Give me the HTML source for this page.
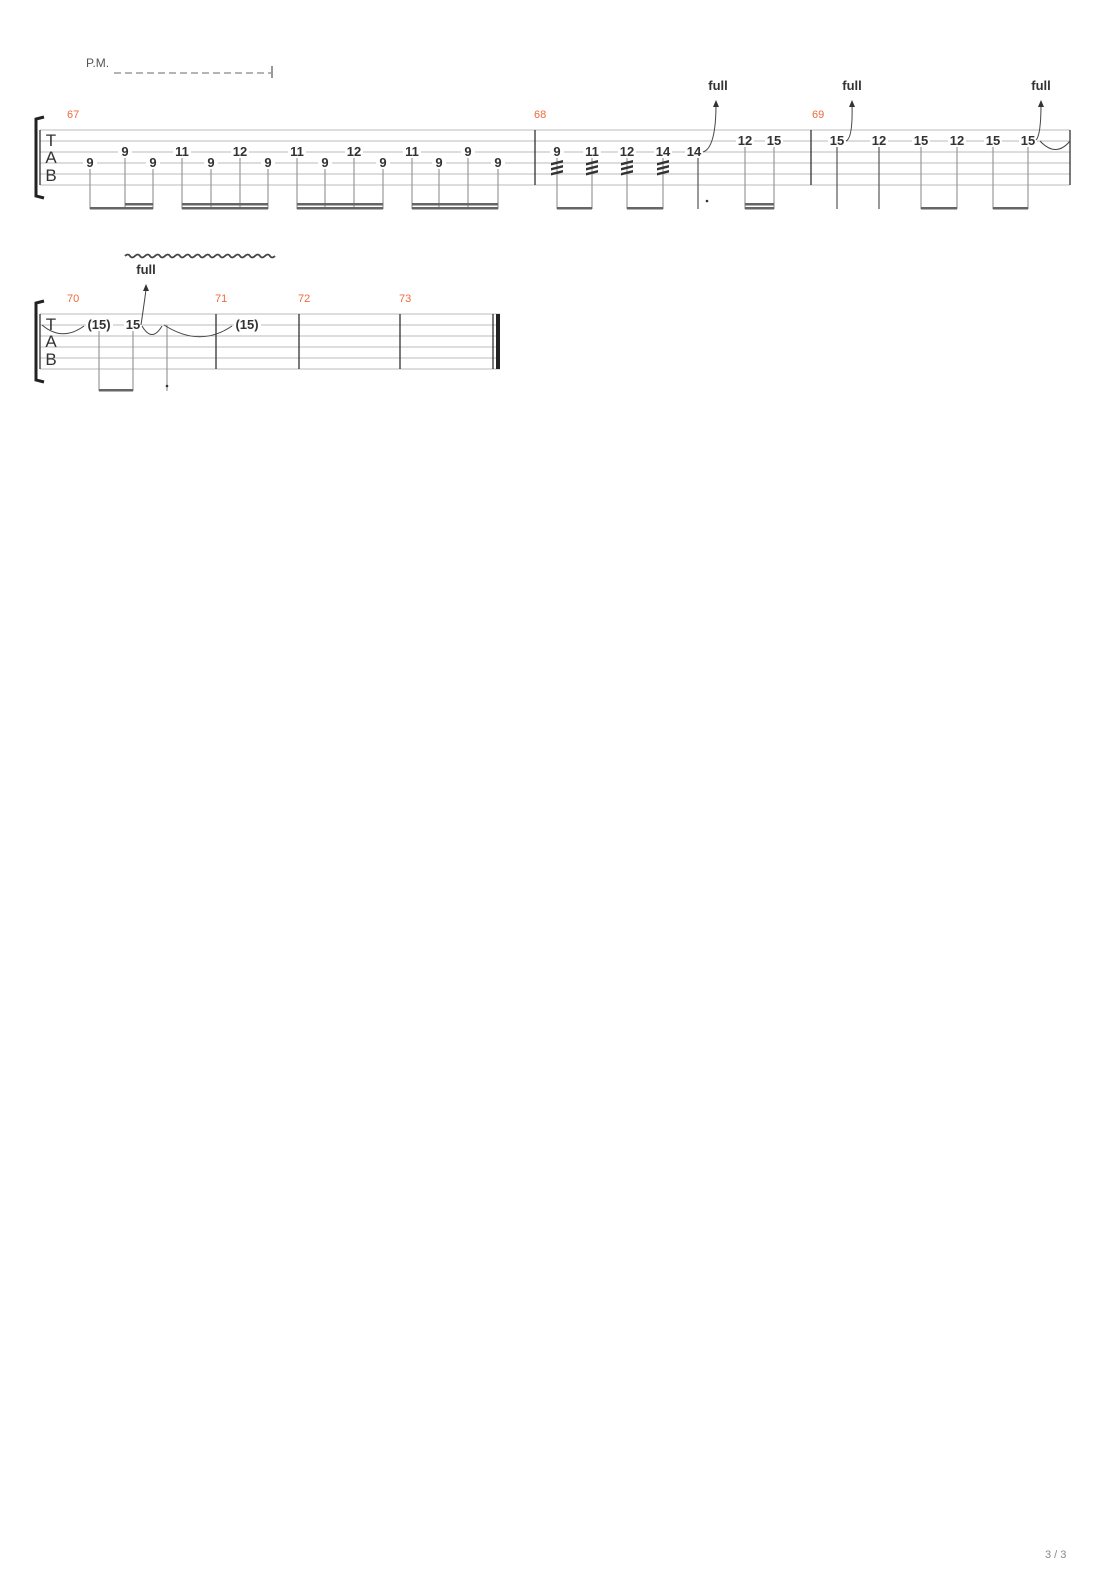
<!DOCTYPE html>
<html><head><meta charset="utf-8"><style>
html,body{margin:0;padding:0;background:#fff;}
svg{display:block;}
.n{font-family:"Liberation Sans",sans-serif;font-size:13px;font-weight:bold;fill:#333;text-anchor:middle;}
.m{font-family:"Liberation Sans",sans-serif;font-size:11px;fill:#f06a3c;}
.tab{font-family:"Liberation Sans",sans-serif;font-size:17px;fill:#333;text-anchor:middle;}
</style></head><body>
<svg width="1110" height="1570" xmlns="http://www.w3.org/2000/svg">
<text x="86" y="67" font-family="Liberation Sans" font-size="12" fill="#555">P.M.</text>
<line x1="114" y1="73" x2="271" y2="73" stroke="#888" stroke-width="1.3" stroke-dasharray="7,4"/>
<line x1="272" y1="66" x2="272" y2="78" stroke="#555" stroke-width="1.2"/>

<!-- System 1 -->
<g stroke="#bbb" stroke-width="1">
<line x1="40" y1="130" x2="1070" y2="130"/><line x1="40" y1="141" x2="1070" y2="141"/>
<line x1="40" y1="152" x2="1070" y2="152"/><line x1="40" y1="163" x2="1070" y2="163"/>
<line x1="40" y1="174" x2="1070" y2="174"/><line x1="40" y1="185" x2="1070" y2="185"/>
</g>
<path d="M44 117 L36 119 L36 196 L44 198" fill="none" stroke="#222" stroke-width="3"/>
<g stroke="#333" stroke-width="1.3"><line x1="40" y1="130" x2="40" y2="185"/><line x1="535" y1="130" x2="535" y2="185"/><line x1="811" y1="130" x2="811" y2="185"/><line x1="1070" y1="130" x2="1070" y2="185"/></g>
<text class="tab" x="51" y="146">T</text><text class="tab" x="51" y="163">A</text><text class="tab" x="51" y="181">B</text>
<text class="m" x="67" y="118">67</text><text class="m" x="534" y="118">68</text><text class="m" x="812" y="118">69</text>

<g fill="#fff"><rect x="83" y="155" width="14" height="14"/><rect x="118" y="144" width="14" height="14"/><rect x="146" y="155" width="14" height="14"/><rect x="173" y="144" width="18" height="14"/><rect x="204" y="155" width="14" height="14"/><rect x="231" y="144" width="18" height="14"/><rect x="261" y="155" width="14" height="14"/><rect x="288" y="144" width="18" height="14"/><rect x="318" y="155" width="14" height="14"/><rect x="345" y="144" width="18" height="14"/><rect x="376" y="155" width="14" height="14"/><rect x="403" y="144" width="18" height="14"/><rect x="432" y="155" width="14" height="14"/><rect x="461" y="144" width="14" height="14"/><rect x="491" y="155" width="14" height="14"/>
<rect x="550" y="144" width="14" height="14"/><rect x="583" y="144" width="18" height="14"/><rect x="618" y="144" width="18" height="14"/><rect x="654" y="144" width="18" height="14"/><rect x="685" y="144" width="18" height="14"/><rect x="736" y="133" width="18" height="14"/><rect x="765" y="133" width="18" height="14"/>
<rect x="828" y="133" width="18" height="14"/><rect x="870" y="133" width="18" height="14"/><rect x="912" y="133" width="18" height="14"/><rect x="948" y="133" width="18" height="14"/><rect x="984" y="133" width="18" height="14"/><rect x="1019" y="133" width="18" height="14"/></g>
<g class="n">
<text x="90" y="167">9</text><text x="125" y="156">9</text><text x="153" y="167">9</text><text x="182" y="156">11</text><text x="211" y="167">9</text><text x="240" y="156">12</text><text x="268" y="167">9</text><text x="297" y="156">11</text><text x="325" y="167">9</text><text x="354" y="156">12</text><text x="383" y="167">9</text><text x="412" y="156">11</text><text x="439" y="167">9</text><text x="468" y="156">9</text><text x="498" y="167">9</text>
<text x="557" y="156">9</text><text x="592" y="156">11</text><text x="627" y="156">12</text><text x="663" y="156">14</text><text x="694" y="156">14</text><text x="745" y="145">12</text><text x="774" y="145">15</text>
<text x="837" y="145">15</text><text x="879" y="145">12</text><text x="921" y="145">15</text><text x="957" y="145">12</text><text x="993" y="145">15</text><text x="1028" y="145">15</text>
<text x="718" y="90">full</text><text x="852" y="90">full</text><text x="1041" y="90">full</text>
</g>
<g stroke="#999" stroke-width="1.2">
<line x1="90" y1="169" x2="90" y2="209"/><line x1="125" y1="158" x2="125" y2="209"/><line x1="153" y1="169" x2="153" y2="209"/>
<line x1="182" y1="158" x2="182" y2="209"/><line x1="211" y1="169" x2="211" y2="209"/><line x1="240" y1="158" x2="240" y2="209"/><line x1="268" y1="169" x2="268" y2="209"/>
<line x1="297" y1="158" x2="297" y2="209"/><line x1="325" y1="169" x2="325" y2="209"/><line x1="354" y1="158" x2="354" y2="209"/><line x1="383" y1="169" x2="383" y2="209"/>
<line x1="412" y1="158" x2="412" y2="209"/><line x1="439" y1="169" x2="439" y2="209"/><line x1="468" y1="158" x2="468" y2="209"/><line x1="498" y1="169" x2="498" y2="209"/>
<line x1="557" y1="158" x2="557" y2="209"/><line x1="592" y1="158" x2="592" y2="209"/><line x1="627" y1="158" x2="627" y2="209"/><line x1="663" y1="158" x2="663" y2="209"/>
<line x1="745" y1="147" x2="745" y2="209"/><line x1="774" y1="147" x2="774" y2="209"/>
<line x1="921" y1="147" x2="921" y2="209"/><line x1="957" y1="147" x2="957" y2="209"/><line x1="993" y1="147" x2="993" y2="209"/><line x1="1028" y1="147" x2="1028" y2="209"/>
</g>
<g stroke="#555" stroke-width="1.2"><line x1="698" y1="158" x2="698" y2="209"/><line x1="837" y1="147" x2="837" y2="209"/><line x1="879" y1="147" x2="879" y2="209"/></g>
<circle cx="707" cy="201" r="1.3" fill="#333"/>
<g fill="#666">
<rect x="90" y="207" width="63" height="2.5"/><rect x="125" y="203" width="28" height="2.5"/>
<rect x="182" y="207" width="86" height="2.5"/><rect x="182" y="203" width="86" height="2.5"/>
<rect x="297" y="207" width="86" height="2.5"/><rect x="297" y="203" width="86" height="2.5"/>
<rect x="412" y="207" width="86" height="2.5"/><rect x="412" y="203" width="86" height="2.5"/>
<rect x="557" y="207" width="35" height="2.5"/><rect x="627" y="207" width="36" height="2.5"/>
<rect x="745" y="207" width="29" height="2.5"/><rect x="745" y="203" width="29" height="2.5"/>
<rect x="921" y="207" width="36" height="2.5"/><rect x="993" y="207" width="35" height="2.5"/>
</g>
<g fill="#333">
<path d="M551 163 l12 -3 v2.5 l-12 3z M551 168 l12 -3 v2.5 l-12 3z M551 173 l12 -3 v2.5 l-12 3z"/>
<path d="M586 163 l12 -3 v2.5 l-12 3z M586 168 l12 -3 v2.5 l-12 3z M586 173 l12 -3 v2.5 l-12 3z"/>
<path d="M621 163 l12 -3 v2.5 l-12 3z M621 168 l12 -3 v2.5 l-12 3z M621 173 l12 -3 v2.5 l-12 3z"/>
<path d="M657 163 l12 -3 v2.5 l-12 3z M657 168 l12 -3 v2.5 l-12 3z M657 173 l12 -3 v2.5 l-12 3z"/>
</g>
<g fill="none" stroke="#444" stroke-width="1">
<path d="M703 152 Q716 148 716 104"/><path d="M846 141 Q853 138 852 104"/><path d="M1036 140 Q1041 135 1041 104"/>
<path d="M1040 141 Q1056 158 1070 141"/>
</g>
<g fill="#333"><path d="M716 100 l-3 7 h6z"/><path d="M852 100 l-3 7 h6z"/><path d="M1041 100 l-3 7 h6z"/></g>

<!-- System 2 -->
<g stroke="#bbb" stroke-width="1">
<line x1="40" y1="314" x2="500" y2="314"/><line x1="40" y1="325" x2="500" y2="325"/>
<line x1="40" y1="336" x2="500" y2="336"/><line x1="40" y1="347" x2="500" y2="347"/>
<line x1="40" y1="358" x2="500" y2="358"/><line x1="40" y1="369" x2="500" y2="369"/>
</g>
<path d="M44 301 L36 303 L36 380 L44 382" fill="none" stroke="#222" stroke-width="3"/>
<g stroke="#333" stroke-width="1.3"><line x1="40" y1="314" x2="40" y2="369"/><line x1="216" y1="314" x2="216" y2="369"/><line x1="299" y1="314" x2="299" y2="369"/><line x1="400" y1="314" x2="400" y2="369"/><line x1="493" y1="314" x2="493" y2="369"/></g>
<rect x="496" y="314" width="4" height="55" fill="#222"/>
<text class="tab" x="51" y="330">T</text><text class="tab" x="51" y="347">A</text><text class="tab" x="51" y="365">B</text>
<text class="m" x="67" y="302">70</text><text class="m" x="215" y="302">71</text><text class="m" x="298" y="302">72</text><text class="m" x="399" y="302">73</text>
<g fill="#fff"><rect x="86" y="318" width="27" height="14"/><rect x="124" y="318" width="18" height="14"/><rect x="234" y="318" width="27" height="14"/></g>
<g class="n"><text x="99" y="329">(15)</text><text x="133" y="329">15</text><text x="247" y="329">(15)</text><text x="146" y="274">full</text></g>
<g stroke="#999" stroke-width="1.2"><line x1="99" y1="331" x2="99" y2="391"/><line x1="133" y1="331" x2="133" y2="391"/><line x1="167" y1="325" x2="167" y2="391"/></g>
<rect x="99" y="389" width="34" height="2.5" fill="#666"/>
<circle cx="167" cy="386" r="1.3" fill="#333"/>
<g fill="none" stroke="#444" stroke-width="1">
<path d="M42 325 Q62 342 84 326"/><path d="M141 325 Q147 284 146 288"/>
<path d="M142 326 Q152 343 162 326"/><path d="M164 325 Q200 348 232 326"/>
<path d="M125 256 q3 -3 5 0 t5 0 t5 0 t5 0 t5 0 t5 0 t5 0 t5 0 t5 0 t5 0 t5 0 t5 0 t5 0 t5 0 t5 0 t5 0 t5 0 t5 0 t5 0 t5 0 t5 0 t5 0 t5 0 t5 0 t5 0 t5 0 t5 0 t5 0 t5 0 t5 0" stroke-width="1.8"/>
</g>
<path d="M146 284 l-3 7 h6z" fill="#333"/>

<text x="1045" y="1558" font-family="Liberation Sans" font-size="11" fill="#888">3 / 3</text>
</svg>
</body></html>
